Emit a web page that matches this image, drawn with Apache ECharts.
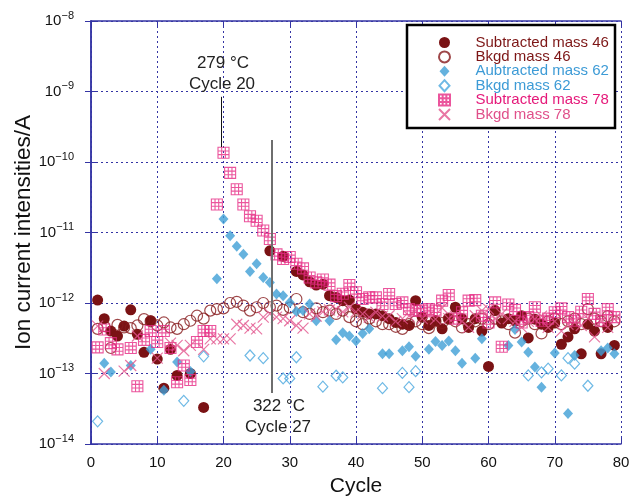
<!DOCTYPE html>
<html>
<head>
<meta charset="utf-8">
<script src="https://cdn.jsdelivr.net/npm/echarts@6/dist/echarts.min.js"></script>
<style>
html,body{margin:0;padding:0;background:#fff}
#chart{width:632px;height:497px}
</style>
</head>
<body>
<div id="chart"></div>
<script>
// Cycle numbers (x) and ion current values in A (y); null = not plotted
const cycles = [1,2,3,4,5,6,7,8,9,10,11,12,13,14,15,16,17,18,19,20,
  21,22,23,24,25,26,27,28,29,30,31,32,33,34,35,36,37,38,39,40,
  41,42,43,44,45,46,47,48,49,50,51,52,53,54,55,56,57,58,59,60,
  61,62,63,64,65,66,67,68,69,70,71,72,73,74,75,76,77,78,79];

const subtracted46 = [1.1e-12,6.0e-13,4.0e-13,3.4e-13,4.7e-13,8.0e-13,3.6e-13,2.0e-13,5.6e-13,1.6e-13,
  6.2e-14,2.2e-13,9.4e-14,null,1.0e-13,null,3.3e-14,null,null,null,
  null,null,null,null,null,null,5.5e-12,null,4.6e-12,null,
  2.8e-12,2.5e-12,2.0e-12,1.8e-12,1.85e-12,1.27e-12,1.2e-12,1.08e-12,1.1e-12,8.2e-13,
  7.4e-13,7.0e-13,7.0e-13,6.6e-13,6.0e-13,5.3e-13,5.0e-13,4.8e-13,1.08e-12,6.3e-13,
  4.8e-13,5.6e-13,4.3e-13,6.0e-13,8.7e-13,6.0e-13,4.5e-13,6.0e-13,4.0e-13,1.26e-13,
  7.8e-13,5.2e-13,6.0e-13,5.6e-13,6.6e-13,3.2e-13,5.9e-13,5.0e-13,4.5e-13,5.2e-13,
  2.6e-13,3.3e-13,4.3e-13,1.9e-13,5.0e-13,4.0e-13,1.9e-13,4.5e-13,2.5e-13];

const bkgd46 = [4.3e-13,4.7e-13,2.3e-13,4.9e-13,4.5e-13,4.4e-13,4.8e-13,5.9e-13,5.5e-13,4.8e-13,
  5.3e-13,4.5e-13,4.3e-13,5.0e-13,5.6e-13,6.6e-13,6.0e-13,7.8e-13,8.2e-13,8.4e-13,
  1.0e-12,1.04e-12,9.2e-13,7.8e-13,8.7e-13,1.0e-12,8.7e-13,9.2e-13,8.0e-13,8.6e-13,
  1.14e-12,7.4e-13,7.0e-13,8.4e-13,7.4e-13,7.8e-13,7.0e-13,7.8e-13,6.3e-13,5.5e-13,
  5.0e-13,6.0e-13,5.5e-13,5.0e-13,5.0e-13,4.6e-13,4.3e-13,5.0e-13,5.5e-13,5.0e-13,
  4.4e-13,5.5e-13,5.2e-13,6.0e-13,5.5e-13,4.5e-13,5.0e-13,5.5e-13,6.0e-13,5.0e-13,
  6.0e-13,5.5e-13,5.0e-13,3.8e-13,5.5e-13,6.0e-13,5.0e-13,3.7e-13,5.5e-13,6.0e-13,
  5.0e-13,5.5e-13,6.0e-13,5.0e-13,8.2e-13,6.0e-13,5.5e-13,6.5e-13,5.5e-13];

const subtracted62 = [null,1.4e-13,1.05e-13,null,null,1.3e-13,null,null,2.2e-13,null,
  5.8e-14,null,1.45e-13,null,1.07e-13,null,null,null,2.2e-12,1.55e-11,
  9.0e-12,6.4e-12,4.9e-12,2.8e-12,3.6e-12,2.3e-12,1.96e-12,1.34e-12,1.27e-12,1.02e-12,
  7.6e-13,7.8e-13,9.7e-13,5.6e-13,null,5.6e-13,3.0e-13,3.8e-13,3.4e-13,2.9e-13,
  3.7e-13,4.3e-13,null,1.9e-13,1.9e-13,null,2.1e-13,2.4e-13,1.75e-13,null,
  2.2e-13,2.85e-13,2.5e-13,2.9e-13,2.1e-13,1.4e-13,null,1.65e-13,3.1e-13,null,
  null,null,2.5e-13,4.2e-13,2.8e-13,2.0e-13,1.24e-13,6.4e-14,null,1.95e-13,
  null,2.7e-14,1.8e-13,null,null,null,2.1e-13,2.3e-13,1.9e-13];

const bkgd62 = [2.1e-14,null,null,null,null,null,null,null,null,null,
  null,null,null,4.1e-14,null,null,1.75e-13,null,null,null,
  null,null,null,1.8e-13,null,1.65e-13,null,null,8.5e-14,8.5e-14,
  1.7e-13,null,null,null,6.5e-14,null,9.3e-14,8.8e-14,null,null,
  null,null,null,6.2e-14,null,null,1.02e-13,6.4e-14,1.08e-13,null,
  null,null,null,null,null,null,null,null,null,null,
  null,null,null,null,null,9.4e-14,null,1.04e-13,1.17e-13,null,
  9.4e-14,1.65e-13,1.38e-13,null,6.7e-14,null,null,null,null];

const subtracted78 = [2.35e-13,4.2e-13,2.7e-13,2.2e-13,null,2.3e-13,6.6e-14,3.0e-13,4.0e-13,2.8e-13,
  4.0e-13,2.3e-13,7.5e-14,1.3e-13,8.1e-14,2.8e-13,4.0e-13,4.0e-13,2.5e-11,1.35e-10,
  7.0e-11,4.1e-11,2.5e-11,1.7e-11,1.47e-11,1.07e-11,8.1e-12,4.9e-12,4.2e-12,4.5e-12,
  3.6e-12,3.1e-12,2.3e-12,1.96e-12,2.15e-12,1.82e-12,1.25e-12,1.35e-12,1.8e-12,1.42e-12,
  1.14e-12,1.2e-12,1.2e-12,9.7e-13,1.34e-12,9.7e-13,1.02e-12,8.2e-13,7.8e-13,7.8e-13,
  8.2e-13,7.8e-13,1.08e-12,1.3e-12,6.0e-13,7.4e-13,1.08e-12,1.1e-12,6.6e-13,5.3e-13,
  1.02e-12,2.4e-13,9.5e-13,8.0e-13,5.3e-13,6.3e-13,8.7e-13,5.6e-13,6.0e-13,7.4e-13,
  8.4e-13,6.3e-13,5.6e-13,7.5e-13,1.14e-12,7.0e-13,5.6e-13,8.2e-13,6.3e-13];

const bkgd78 = [4.7e-13,1.0e-13,null,null,1.08e-13,1.3e-13,3.4e-13,null,null,1.65e-13,
  null,2.7e-13,2.5e-13,2.1e-13,2.5e-13,null,2.2e-13,3.1e-13,3.1e-13,3.1e-13,
  3.1e-13,5.0e-13,4.8e-13,4.4e-13,4.3e-13,6.3e-13,7.0e-13,6.3e-13,6.0e-13,5.6e-13,
  4.8e-13,4.4e-13,7.0e-13,6.5e-13,7.5e-13,8.0e-13,8.2e-13,7.5e-13,8.7e-13,7.5e-13,
  7.0e-13,6.3e-13,7.4e-13,6.5e-13,6.6e-13,5.5e-13,6.0e-13,6.5e-13,7.8e-13,6.0e-13,
  6.5e-13,5.9e-13,8.5e-13,6.0e-13,6.5e-13,5.5e-13,4.5e-13,6.6e-13,7.8e-13,8.2e-13,
  6.0e-13,7.0e-13,6.0e-13,5.5e-13,4.5e-13,5.5e-13,5.9e-13,6.5e-13,4.5e-13,5.5e-13,
  4.0e-13,5.0e-13,5.3e-13,4.8e-13,6.0e-13,3.3e-13,5.5e-13,4.5e-13,5.9e-13];

// Axis ranges and tick labels
const xTicks = [0,10,20,30,40,50,60,70,80];
const yMin = 1e-14, yMax = 1e-8;

// Annotated cycles: [cycle, temperature label]
const events = [
  {cycle: 20, temp: '279 °C'},
  {cycle: 27, temp: '322 °C'}
];

const pairs = arr => cycles.map((c, i) => [c, arr[i]]).filter(p => p[1] != null);

const COL = {
  darkRed: '#7a1214',
  blue: '#3f9fd6',
  blueLight: '#4aa8de',
  pink: '#e62a85',
  rose: '#e2558d'
};
const AXIS_BLUE = '#3434a4';
const FONT = 'Liberation Sans, Arial, Helvetica, sans-serif';

const gridSymbol = 'path://M0,0H12V12H0Z M4,0V12 M8,0V12 M0,4H12 M0,8H12';
const crossSymbol = 'path://M0,0L12,12M12,0L0,12';
const diamondSymbol = 'path://M5,0L10,5.5L5,11L0,5.5Z';

const chart = echarts.init(document.getElementById('chart'), null, {renderer: 'canvas'});

const supLabel = v => {
  const e = Math.round(Math.log10(v));
  return '{b|10}{s|\u2212' + (-e) + '}';
};

const option = {
  animation: false,
  backgroundColor: '#ffffff',
  textStyle: {fontFamily: FONT},
  grid: {left: 91, right: 11, top: 21, bottom: 53, containLabel: false, outerBoundsMode: 'none'},
  xAxis: [{
    type: 'value', min: 0, max: 80, interval: 10,
    name: 'Cycle', nameLocation: 'middle', nameGap: 32, nameMoveOverlap: false,
    nameTextStyle: {fontSize: 21, color: '#111', fontFamily: FONT},
    axisLine: {show: true, lineStyle: {color: AXIS_BLUE, width: 1.5}},
    axisTick: {show: true, inside: true, length: 6, lineStyle: {color: AXIS_BLUE}},
    axisLabel: {fontSize: 15, color: '#111', margin: 11, fontFamily: FONT,
      formatter: v => xTicks.indexOf(v) >= 0 ? String(v) : ''},
    splitLine: {show: true, lineStyle: {color: AXIS_BLUE, type: [2, 3], width: 1}}
  }, {
    type: 'value', min: 0, max: 80, interval: 10, position: 'top',
    axisLine: {show: true, lineStyle: {color: AXIS_BLUE, width: 1.5}},
    axisTick: {show: true, inside: true, length: 6, lineStyle: {color: AXIS_BLUE}},
    axisLabel: {show: false}, splitLine: {show: false}
  }],
  yAxis: [{
    type: 'log', logBase: 10, min: yMin, max: yMax,
    name: 'Ion current intensities/A', nameLocation: 'middle', nameGap: 56, nameMoveOverlap: false,
    nameTextStyle: {fontSize: 22.5, color: '#111', fontFamily: FONT},
    axisLine: {show: true, lineStyle: {color: AXIS_BLUE, width: 1.5}},
    axisTick: {show: true, inside: true, length: 6, lineStyle: {color: AXIS_BLUE}},
    minorTick: {show: false},
    axisLabel: {
      color: '#111', margin: 17, fontFamily: FONT, formatter: supLabel,
      rich: {
        b: {fontSize: 15, lineHeight: 16, padding: [3, 0, 3, 0], color: '#111', fontFamily: FONT},
        s: {fontSize: 11, lineHeight: 12, padding: [0, 0, 11, 0], color: '#111', fontFamily: FONT}
      }
    },
    splitLine: {show: true, lineStyle: {color: AXIS_BLUE, type: [2, 3], width: 1}}
  }, {
    type: 'log', logBase: 10, min: yMin, max: yMax, position: 'right',
    axisLine: {show: true, lineStyle: {color: AXIS_BLUE, width: 1.5}},
    axisTick: {show: true, inside: true, length: 6, lineStyle: {color: AXIS_BLUE}},
    axisLabel: {show: false}, splitLine: {show: false}
  }],
  legend: {
    left: 438, top: 35, orient: 'vertical', itemGap: -0.6,
    itemWidth: 52, itemHeight: 11, padding: 0, z: 10,
    textStyle: {fontSize: 15, lineHeight: 14, fontFamily: FONT},
    data: [
      {name: 'Subtracted mass 46', textStyle: {color: '#7d1616'}},
      {name: 'Bkgd mass 46', textStyle: {color: '#7d1616'}},
      {name: 'Aubtracted mass 62', textStyle: {color: '#3d9bd6'}},
      {name: 'Bkgd mass 62', textStyle: {color: '#3d9bd6'}},
      {name: 'Subtracted mass 78', textStyle: {color: '#e5197a'}},
      {name: 'Bkgd mass 78', textStyle: {color: '#e0508a'}}
    ]
  },
  graphic: [
    {type: 'rect', z: 8, shape: {x: 407, y: 25, width: 208, height: 103},
      style: {fill: '#fff', stroke: '#000', lineWidth: 2.5}},
    {type: 'text', z: 9, x: 223, y: 63, style: {text: events[0].temp, fontSize: 17, fontFamily: FONT, fill: '#222', align: 'center', verticalAlign: 'middle'}},
    {type: 'text', z: 9, x: 222, y: 84, style: {text: 'Cycle ' + events[0].cycle, fontSize: 17, fontFamily: FONT, fill: '#222', align: 'center', verticalAlign: 'middle'}},
    {type: 'text', z: 9, x: 279, y: 406, style: {text: events[1].temp, fontSize: 17, fontFamily: FONT, fill: '#222', align: 'center', verticalAlign: 'middle'}},
    {type: 'text', z: 9, x: 278, y: 427, style: {text: 'Cycle ' + events[1].cycle, fontSize: 17, fontFamily: FONT, fill: '#222', align: 'center', verticalAlign: 'middle'}}
  ],
  series: [
    {
      name: 'Subtracted mass 46', type: 'scatter', symbol: 'circle', symbolSize: 11,
      itemStyle: {color: COL.darkRed, opacity: 1},
      data: pairs(subtracted46),
      markLine: {
        silent: true, symbol: ['none', 'none'], label: {show: false}, animation: false,
        data: [
          [{coord: [19.7, 8.4e-10], lineStyle: {color: '#111', width: 1, type: 'solid'}},
           {coord: [19.7, 1.63e-10]}],
          [{coord: [27.25, 2.05e-10], lineStyle: {color: '#6e6e6e', width: 2, type: 'solid'}},
           {coord: [27.25, 5.3e-14]}]
        ]
      }
    },
    {
      name: 'Bkgd mass 46', type: 'scatter', symbol: 'circle', symbolSize: 11,
      itemStyle: {color: 'rgba(255,255,255,0)', borderColor: '#86191b', borderWidth: 1.2},
      data: pairs(bkgd46)
    },
    {
      name: 'Aubtracted mass 62', type: 'scatter', symbol: diamondSymbol, symbolSize: 11,
      symbolKeepAspect: true,
      itemStyle: {color: COL.blue},
      data: pairs(subtracted62)
    },
    {
      name: 'Bkgd mass 62', type: 'scatter', symbol: diamondSymbol, symbolSize: 11,
      symbolKeepAspect: true,
      itemStyle: {color: 'rgba(255,255,255,0)', borderColor: COL.blueLight, borderWidth: 1.2},
      data: pairs(bkgd62)
    },
    {
      name: 'Subtracted mass 78', type: 'scatter', symbol: gridSymbol, symbolSize: 11,
      itemStyle: {color: 'rgba(255,255,255,0)', borderColor: COL.pink, borderWidth: 1.1},
      data: pairs(subtracted78)
    },
    {
      name: 'Bkgd mass 78', type: 'scatter', symbol: crossSymbol, symbolSize: 11,
      itemStyle: {color: 'rgba(255,255,255,0)', borderColor: COL.rose, borderWidth: 1.2},
      data: pairs(bkgd78)
    }
  ]
};

chart.setOption(option);
</script>
</body>
</html>
